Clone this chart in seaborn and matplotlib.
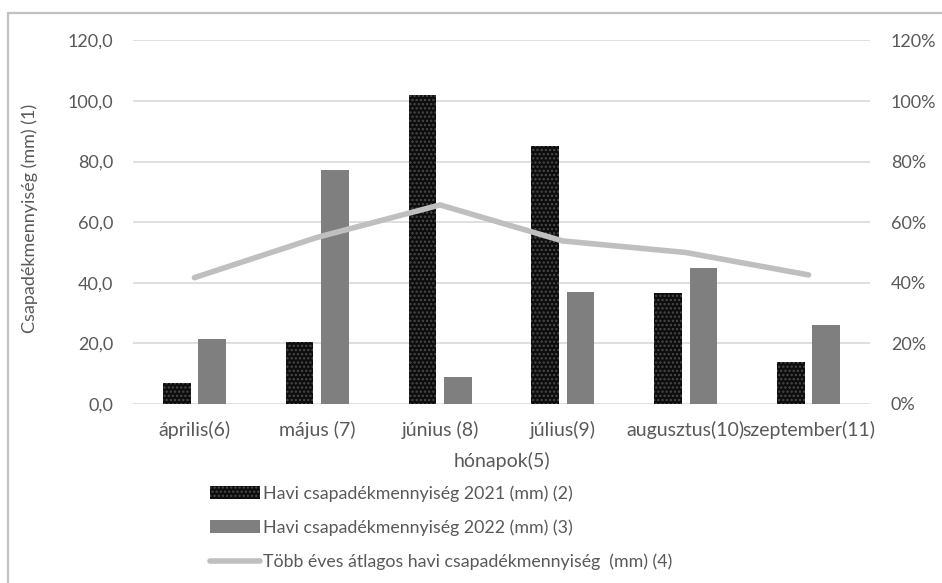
import numpy as np
import pandas as pd
import matplotlib
matplotlib.use("Agg")
import matplotlib.pyplot as plt
from matplotlib.lines import Line2D
from matplotlib.patches import Patch
from matplotlib.ticker import FuncFormatter, PercentFormatter
import seaborn as sns

# Monthly precipitation data (mm)
months = ["április(6)", "május (7)", "június (8)", "július(9)", "augusztus(10)", "szeptember(11)"]
rain_2021 = [7.0, 20.5, 102.0, 85.0, 36.5, 13.8]
rain_2022 = [21.5, 77.3, 8.8, 36.8, 44.8, 26.0]
long_term_avg = [41.7, 55.0, 65.7, 53.8, 50.0, 42.6]

label_2021 = "Havi csapadékmennyiség 2021 (mm) (2)"
label_2022 = "Havi csapadékmennyiség 2022 (mm) (3)"
label_avg = "Több éves átlagos havi csapadékmennyiség  (mm) (4)"
ylabel = "Csapadékmennyiség (mm) (1)"
xlabel = "hónapok(5)"

sns.set_theme(style="white")
plt.rcParams["font.family"] = ["Lato", "DejaVu Sans"]
plt.rcParams["hatch.linewidth"] = 1.1

TEXT = "#595959"
GRID = "#d9d9d9"
C2021 = "#0d0d0d"
C2022 = "#7f7f7f"
CAVG = "#bfbfbf"

W, H = 942, 583
fig = plt.figure(figsize=(W / 100, H / 100), dpi=100)
ax = fig.add_axes([133 / W, (H - 404) / H, (870 - 133) / W, (404 - 40.4) / H])

df = pd.DataFrame({
    "month": months * 2,
    "value": rain_2021 + rain_2022,
    "series": [label_2021] * len(months) + [label_2022] * len(months),
})

sns.barplot(data=df, x="month", y="value", hue="series", order=months,
            palette=[C2021, C2022], width=0.576, gap=0.22,
            saturation=1, linewidth=0, legend=False, ax=ax, zorder=3)

# dotted texture on the 2021 bars
for bar in ax.patches[:len(months)]:
    bar.set_hatch("....")
    bar.set_edgecolor("#4a4a4a")
    bar.set_linewidth(0)

sns.lineplot(x=np.arange(len(months)), y=long_term_avg, color=CAVG,
             linewidth=4.0, ax=ax, zorder=4, solid_capstyle="round")

ax.set_ylim(0, 120)
ax.set_xlim(-0.5, len(months) - 0.5)
ax.set_yticks(np.arange(0, 121, 20))
ax.yaxis.set_major_formatter(FuncFormatter(lambda v, p: f"{v:.1f}".replace(".", ",")))
ax.grid(axis="y", color=GRID, linewidth=1.2, zorder=0)
ax.grid(axis="x", visible=False)
for s in ax.spines.values():
    s.set_visible(False)
ax.tick_params(axis="y", length=0, pad=14, labelsize=13, labelcolor=TEXT)
ax.tick_params(axis="x", length=0, pad=12, labelsize=14, labelcolor=TEXT)

ax.set_ylabel(ylabel, fontsize=13, color=TEXT)
ax.yaxis.set_label_coords(-0.129, 0.51)
ax.set_xlabel(xlabel, fontsize=14, color=TEXT)
ax.xaxis.set_label_coords(0.5, -0.157)
ax.xaxis.label.set_va("center")

# secondary percentage axis
ax2 = ax.twinx()
ax2.set_ylim(0, 1.2)
ax2.set_yticks(np.arange(0, 1.21, 0.2))
ax2.yaxis.set_major_formatter(PercentFormatter(1.0, decimals=0))
ax2.tick_params(axis="y", length=0, pad=15, labelsize=13, labelcolor=TEXT)
ax2.grid(False)
for s in ax2.spines.values():
    s.set_visible(False)

# legend below the plot
handles = [
    Patch(facecolor=C2021, edgecolor="#4a4a4a", hatch="....", linewidth=0),
    Patch(facecolor=C2022, edgecolor=C2022, linewidth=0),
    Line2D([0], [0], color=CAVG, linewidth=4.0, solid_capstyle="round"),
]
leg = fig.legend(handles, [label_2021, label_2022, label_avg],
                 loc="upper left", bbox_to_anchor=(210 / W, 1 - 485 / H),
                 frameon=False, fontsize=12.8, handlelength=2.8, handleheight=0.7,
                 handletextpad=0.2, labelspacing=1.0, borderpad=0,
                 borderaxespad=0)
for t in leg.get_texts():
    t.set_color(TEXT)

# outer chart frame (left and top edges)
fig.add_artist(Line2D([8 / W, 8 / W], [0, 1 - 13 / H], color="#c0c0c0", linewidth=1.6,
                      transform=fig.transFigure))
fig.add_artist(Line2D([8 / W, 1], [1 - 13 / H, 1 - 13 / H], color="#c0c0c0", linewidth=1.6,
                      transform=fig.transFigure))

fig.savefig("out.png", dpi=100)
